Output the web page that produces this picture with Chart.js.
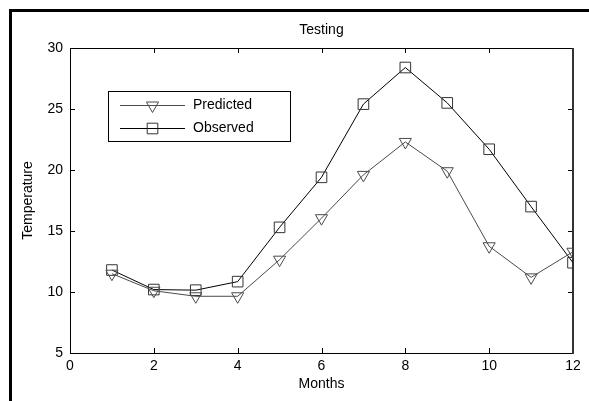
<!DOCTYPE html>
<html>
<head>
<meta charset="utf-8">
<script src="https://cdn.jsdelivr.net/npm/chart.js"></script>
<style>
  body { margin: 0; background: #fff; }
  #wrap { position: relative; width: 589px; height: 401px; overflow: hidden; }
  #frame { position: absolute; left: 9px; top: 9px; width: 580px; height: 392px;
           border-left: 3px solid #000; border-top: 3px solid #000; }
  #c { position: absolute; left: 0; top: 0; }
</style>
</head>
<body>
<div id="wrap">
  <div id="frame"></div>
  <canvas id="c" width="589" height="401"></canvas>
</div>
<script>
var months = [1, 2, 3, 4, 5, 6, 7, 8, 9, 10, 11, 12];
var predicted = [11.5, 10.1, 9.65, 9.65, 12.65, 16.05, 19.6, 22.3, 19.9, 13.75, 11.2, 13.3];
var observed = [11.8, 10.2, 10.15, 10.85, 15.3, 19.4, 25.4, 28.4, 25.5, 21.7, 17.0, 12.4];
var seriesNames = ['Predicted', 'Observed'];
var chartTitle = 'Testing';
var xTitle = 'Months';
var yTitle = 'Temperature';

var fam = '"Liberation Sans", Arial, sans-serif';

function pts(vals) {
    return months.map(function (m, i) { return { x: m, y: vals[i] }; });
}

// draws a down triangle or square like the library's point styles
function marker(ctx, kind, x, y, r) {
    ctx.beginPath();
    if (kind == 'tri') {
        ctx.moveTo(x, y + r);
        ctx.lineTo(x - r * 0.866, y - r * 0.5);
        ctx.lineTo(x + r * 0.866, y - r * 0.5);
        ctx.closePath();
    } else {
        var s = r * Math.SQRT1_2;
        ctx.rect(x - s, y - s, 2 * s, 2 * s);
    }
    ctx.stroke();
}

var boxPlugin = {
    id: 'box',
    beforeDatasetsDraw: function (chart) {
        var ctx = chart.ctx, a = chart.chartArea;
        var x = chart.scales.x, y = chart.scales.y;
        ctx.save();
        ctx.strokeStyle = '#000';
        ctx.lineWidth = 1;
        ctx.beginPath();
        x.ticks.forEach(function (t) {
            var px = Math.round(x.getPixelForValue(t.value)) + 0.5;
            ctx.moveTo(px, a.bottom); ctx.lineTo(px, a.bottom - 5);
            ctx.moveTo(px, a.top); ctx.lineTo(px, a.top + 5);
        });
        y.ticks.forEach(function (t) {
            var py = Math.round(y.getPixelForValue(t.value)) + 0.5;
            ctx.moveTo(a.left, py); ctx.lineTo(a.left + 5, py);
            ctx.moveTo(a.right, py); ctx.lineTo(a.right - 5, py);
        });
        ctx.stroke();
        ctx.beginPath();
        ctx.moveTo(a.right, a.bottom + 0.5);
        ctx.lineTo(a.left + 0.5, a.bottom + 0.5);
        ctx.lineTo(a.left + 0.5, a.top + 0.5);
        ctx.lineTo(a.right, a.top + 0.5);
        ctx.stroke();
        ctx.strokeStyle = '#333';
        ctx.lineWidth = 2;
        ctx.beginPath();
        ctx.moveTo(a.right, a.top);
        ctx.lineTo(a.right, a.bottom + 1);
        ctx.stroke();

        ctx.fillStyle = '#000';
        ctx.font = '14px ' + fam;
        ctx.textAlign = 'center';
        ctx.textBaseline = 'alphabetic';
        ctx.fillText(chartTitle, (a.left + a.right) / 2, a.top - 14);
        ctx.restore();
    },
    afterDatasetsDraw: function (chart) {
        var ctx = chart.ctx, a = chart.chartArea;
        var bx = a.left + 38, by = a.top + 43;
        ctx.save();
        ctx.fillStyle = '#fff';
        ctx.fillRect(bx, by, 182, 50);
        ctx.strokeStyle = '#000';
        ctx.lineWidth = 1;
        ctx.strokeRect(bx + 0.5, by + 0.5, 182, 50);
        var rows = [
            { name: seriesNames[0], line: '#4a4a4a', mk: '#4a4a4a', kind: 'tri', r: 7 },
            { name: seriesNames[1], line: '#000', mk: '#333', kind: 'sq', r: 7.5 }
        ];
        rows.forEach(function (row, i) {
            var ly = by + 14.5 + i * 23;
            ctx.strokeStyle = row.line;
            ctx.beginPath();
            ctx.moveTo(bx + 12, ly);
            ctx.lineTo(bx + 77, ly);
            ctx.stroke();
            ctx.strokeStyle = row.mk;
            ctx.fillStyle = '#fff';
            marker(ctx, row.kind, bx + 44.5, ly, row.r);
            ctx.fillStyle = '#000';
            ctx.font = '14px ' + fam;
            ctx.textAlign = 'left';
            ctx.textBaseline = 'middle';
            ctx.fillText(row.name, bx + 85, ly);
        });
        ctx.restore();
    }
};

var tickFont = { family: fam, size: 14 };

new Chart(document.getElementById('c'), {
    type: 'scatter',
    data: {
        datasets: [{
            label: seriesNames[0],
            data: pts(predicted),
            showLine: true,
            borderColor: '#4a4a4a',
            borderWidth: 1,
            pointStyle: 'triangle',
            rotation: 180,
            pointRadius: 7,
            pointBorderColor: '#4a4a4a',
            pointBackgroundColor: 'rgba(0,0,0,0)',
            pointBorderWidth: 1
        }, {
            label: seriesNames[1],
            data: pts(observed),
            showLine: true,
            borderColor: '#000',
            borderWidth: 1,
            pointStyle: 'rect',
            pointRadius: 7.5,
            pointBorderColor: '#333',
            pointBackgroundColor: 'rgba(0,0,0,0)',
            pointBorderWidth: 1
        }]
    },
    options: {
        responsive: false,
        animation: false,
        layout: { padding: { left: 10, top: 48, right: 16, bottom: 0 } },
        plugins: {
            legend: { display: false },
            tooltip: { enabled: false },
            title: { display: false }
        },
        scales: {
            x: {
                type: 'linear',
                min: 0,
                max: 12,
                ticks: { stepSize: 2, color: '#000', font: tickFont, padding: 5, maxRotation: 0 },
                grid: { display: false, drawTicks: false },
                border: { display: false },
                title: { display: true, text: xTitle, color: '#000', font: tickFont, padding: { top: 0, bottom: 8 } },
                afterFit: function (s) { s.height = 48; }
            },
            y: {
                min: 5,
                max: 30,
                ticks: { stepSize: 5, color: '#000', font: tickFont, padding: 7 },
                grid: { display: false, drawTicks: false },
                border: { display: false },
                title: { display: true, text: yTitle, color: '#000', font: tickFont, padding: { top: 10, bottom: 0 } },
                afterFit: function (s) { s.width = 60; }
            }
        }
    },
    plugins: [boxPlugin]
});
</script>
</body>
</html>
